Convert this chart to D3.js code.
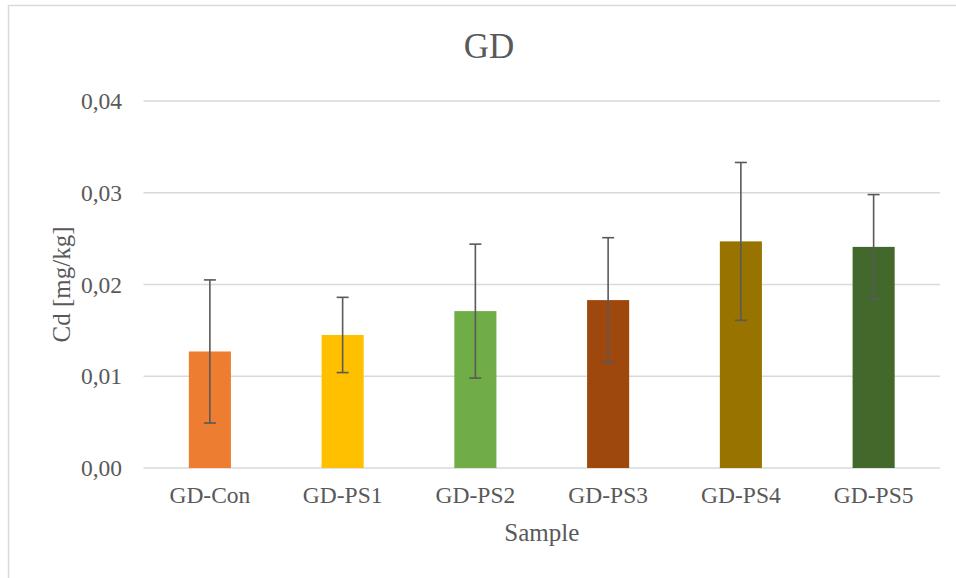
<!DOCTYPE html>
<html>
<head>
<meta charset="utf-8">
<script src="https://cdn.jsdelivr.net/npm/d3@7"></script>
<style>
  html, body { margin: 0; padding: 0; background: #fff; }
  svg text { font-family: 'Liberation Serif', 'Times New Roman', Times, 'DejaVu Serif', serif !important; fill: #595959; }
</style>
</head>
<body>
<svg id="chart" width="956" height="578"></svg>
<script>
const categories = ["GD-Con", "GD-PS1", "GD-PS2", "GD-PS3", "GD-PS4", "GD-PS5"];
const values = [0.0127, 0.0145, 0.0171, 0.0183, 0.0247, 0.0241];
const errors = [0.0078, 0.0041, 0.0073, 0.0068, 0.0086, 0.0057];
const colors = ["#ED7D31", "#FFC000", "#70AD47", "#9E480E", "#997300", "#43682B"];
const yTicks = [0, 0.01, 0.02, 0.03, 0.04];
const title = "GD";
const xTitle = "Sample";
const yTitle = "Cd [mg/kg]";

const FONT = "'Liberation Serif', 'Times New Roman', Times, serif";
const svg = d3.select("#chart");
const W = 956, H = 578;
const plot = { left: 143.5, right: 940, top: 101, bottom: 468 };

// chart frame
svg.append("rect").attr("x", 8.5).attr("y", 5.5).attr("width", W + 10).attr("height", H + 10)
  .attr("fill", "#fff").attr("stroke", "#d9d9d9").attr("stroke-width", 1.5);

const x = d3.scaleBand().domain(categories).range([plot.left, plot.right]).padding(0);
const y = d3.scaleLinear().domain([0, 0.04]).range([plot.bottom, plot.top]);
const barW = x.bandwidth() * 0.317;

const fmt = v => d3.format(".2f")(v).replace(".", ",");

// gridlines
svg.append("g").selectAll("line").data(yTicks).join("line")
  .attr("x1", plot.left).attr("x2", plot.right)
  .attr("y1", d => y(d)).attr("y2", d => y(d))
  .attr("stroke", "#d9d9d9").attr("stroke-width", 1.5);

// y axis labels
const yAxis = d3.axisLeft(y).tickValues(yTicks).tickFormat(fmt).tickSize(0).tickPadding(0);
const gy = svg.append("g").attr("transform", `translate(122,0)`).call(yAxis)
  .attr("font-family", FONT).attr("font-size", 23.5);
gy.select(".domain").remove();
gy.selectAll("text").attr("fill", "#595959").attr("dy", "0.32em");

// x axis labels
const xAxis = d3.axisBottom(x).tickSize(0).tickPadding(0);
const gx = svg.append("g").attr("transform", `translate(0,${plot.bottom})`).call(xAxis)
  .attr("font-family", FONT).attr("font-size", 23.5);
gx.select(".domain").remove();
gx.selectAll("text").attr("fill", "#595959").attr("dy", null).attr("y", 35);

// bars
svg.append("g").selectAll("rect").data(categories).join("rect")
  .attr("x", (d) => x(d) + x.bandwidth() / 2 - barW / 2)
  .attr("width", barW)
  .attr("y", (d, i) => y(values[i]))
  .attr("height", (d, i) => y(0) - y(values[i]))
  .attr("fill", (d, i) => colors[i]);

// error bars
const eg = svg.append("g").attr("stroke", "#595959").attr("stroke-width", 1.6);
categories.forEach((c, i) => {
  const cx = x(c) + x.bandwidth() / 2;
  const hi = y(values[i] + errors[i]), lo = y(values[i] - errors[i]);
  eg.append("line").attr("x1", cx).attr("x2", cx).attr("y1", hi).attr("y2", lo);
  eg.append("line").attr("x1", cx - 6).attr("x2", cx + 6).attr("y1", hi).attr("y2", hi);
  eg.append("line").attr("x1", cx - 6).attr("x2", cx + 6).attr("y1", lo).attr("y2", lo);
});

// title
svg.append("text").attr("x", 489).attr("y", 58)
  .attr("font-family", FONT).attr("text-anchor", "middle").attr("font-size", 35).text(title);

// axis titles
svg.append("text").attr("x", (plot.left + plot.right) / 2).attr("y", 541)
  .attr("font-family", FONT).attr("text-anchor", "middle").attr("font-size", 25).text(xTitle);
svg.append("text").attr("transform", `translate(70,${(plot.top + plot.bottom) / 2}) rotate(-90)`)
  .attr("font-family", FONT).attr("text-anchor", "middle").attr("font-size", 25).text(yTitle);
</script>
</body>
</html>
